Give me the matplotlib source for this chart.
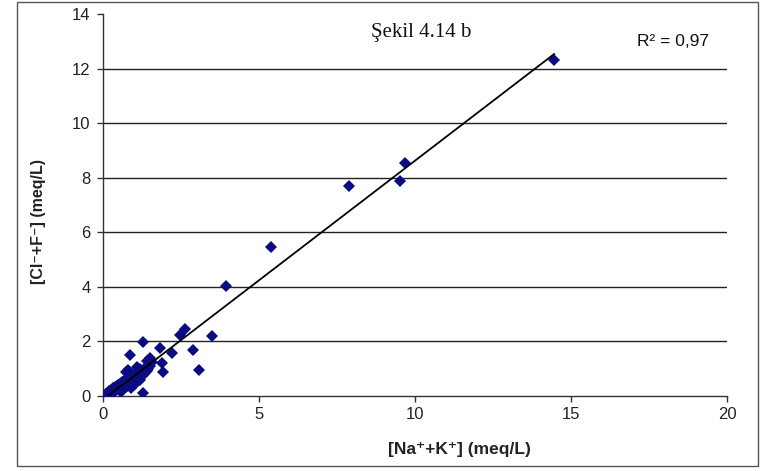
import numpy as np
import matplotlib
matplotlib.use("Agg")
import matplotlib.pyplot as plt
from matplotlib.patches import Rectangle

# Cation sum (Na+ + K+) and anion sum (Cl- + F-), meq/L
na_k = [
    0.10, 0.14, 0.18, 0.20, 0.22, 0.25, 0.28, 0.30, 0.32, 0.35, 0.36, 0.38,
    0.40, 0.42, 0.44, 0.46, 0.48, 0.50, 0.52, 0.54, 0.55, 0.58, 0.60, 0.62,
    0.64, 0.66, 0.68, 0.70, 0.72, 0.74, 0.76, 0.78, 0.80, 0.82, 0.84, 0.86,
    0.88, 0.90, 0.92, 0.94, 0.96, 0.98, 1.00, 1.02, 1.04, 1.06, 1.08, 1.10,
    1.12, 1.15, 1.18, 1.20, 1.22, 1.25, 1.28, 1.30, 1.33, 1.36, 1.40, 1.45,
    1.50, 0.80, 0.90, 0.60, 1.00, 0.75, 1.10, 1.20,
    0.87, 1.28, 1.83, 1.50, 1.57, 1.40, 1.90, 1.92, 2.20, 2.88, 2.47, 2.63,
    3.49, 3.08, 3.94, 5.40, 7.88, 9.52, 9.68, 14.46,
]
cl_f = [
    0.08, 0.12, 0.15, 0.18, 0.10, 0.22, 0.22, 0.18, 0.30, 0.25, 0.15, 0.32,
    0.30, 0.22, 0.38, 0.32, 0.40, 0.28, 0.42, 0.20, 0.45, 0.42, 0.35, 0.50,
    0.48, 0.40, 0.30, 0.58, 0.52, 0.45, 0.62, 0.38, 0.60, 0.52, 0.70, 0.62,
    0.45, 0.65, 0.72, 0.55, 0.68, 0.78, 0.72, 0.62, 0.50, 0.80, 0.72, 0.88,
    0.65, 0.82, 0.58, 0.92, 0.85, 0.75, 0.10, 0.90, 0.80, 1.02, 0.90, 1.00,
    1.10, 0.95, 0.30, 0.18, 0.40, 0.88, 1.05, 1.00,
    1.50, 1.98, 1.76, 1.40, 1.25, 1.30, 1.20, 0.88, 1.57, 1.68, 2.23, 2.45,
    2.20, 0.95, 4.03, 5.47, 7.69, 7.88, 8.53, 12.31,
]

x_ticks = [0, 5, 10, 15, 20]
y_ticks = [0, 2, 4, 6, 8, 10, 12, 14]
title_text = "Şekil 4.14 b"
r2_text = "R² = 0,97"
x_label = "[Na⁺+K⁺] (meq/L)"
y_label = "[Cl⁻+F⁻] (meq/L)"

sans = ["Liberation Sans", "DejaVu Sans"]
plt.rcParams["font.family"] = sans

fig = plt.figure(figsize=(7.6, 4.71), dpi=100)
fig.patch.set_facecolor("white")

# chart-area frame
fig.patches.append(Rectangle((0.0224, 0.0106), 0.975, 0.9852,
                             transform=fig.transFigure, fill=False,
                             edgecolor="#555555", linewidth=1.0))

ax = fig.add_axes([0.1355, 0.1592, 0.8211, 0.8110])
ax.set_xlim(0, 20)
ax.set_ylim(0, 14)
ax.set_xticks(x_ticks)
ax.set_yticks(y_ticks)

# horizontal gridlines
ax.hlines(y_ticks[1:-1], 0, 20, colors="#222222", linewidth=1.0, zorder=1)

for side in ("top", "right"):
    ax.spines[side].set_visible(False)
for side in ("left", "bottom"):
    ax.spines[side].set_color("#333333")
    ax.spines[side].set_linewidth(1.0)

ax.tick_params(axis="both", direction="out", length=4, width=1,
               colors="#333333", labelsize=12, labelcolor="#222222")
ax.tick_params(axis="y", pad=5)
ax.tick_params(axis="x", pad=4)

xs = np.array(na_k)
ys = np.array(cl_f)
ax.plot(xs, ys, linestyle="none", marker="D", markersize=6.2,
        color="#0b0b82", markeredgewidth=0, zorder=3)

# linear trendline over the data range
slope, intercept = np.polyfit(xs, ys, 1)
xl = np.array([xs.min(), xs.max()])
ax.plot(xl, slope * xl + intercept, color="black", linewidth=1.3, zorder=4)

fig.text(0.554, 0.93, title_text, family=["Liberation Serif", "DejaVu Serif"],
         fontsize=15, ha="center", va="center", color="#111111")
fig.text(0.885, 0.911, r2_text, fontsize=12.5, ha="center", va="center",
         color="#111111")
fig.text(0.605, 0.045, x_label, fontsize=12.5, fontweight="bold",
         ha="center", va="center", color="#222222")
fig.text(0.05, 0.529, y_label, fontsize=11.5, fontweight="bold",
         rotation=90, ha="center", va="center", color="#222222")

fig.savefig("out.png", dpi=100, facecolor="white")
